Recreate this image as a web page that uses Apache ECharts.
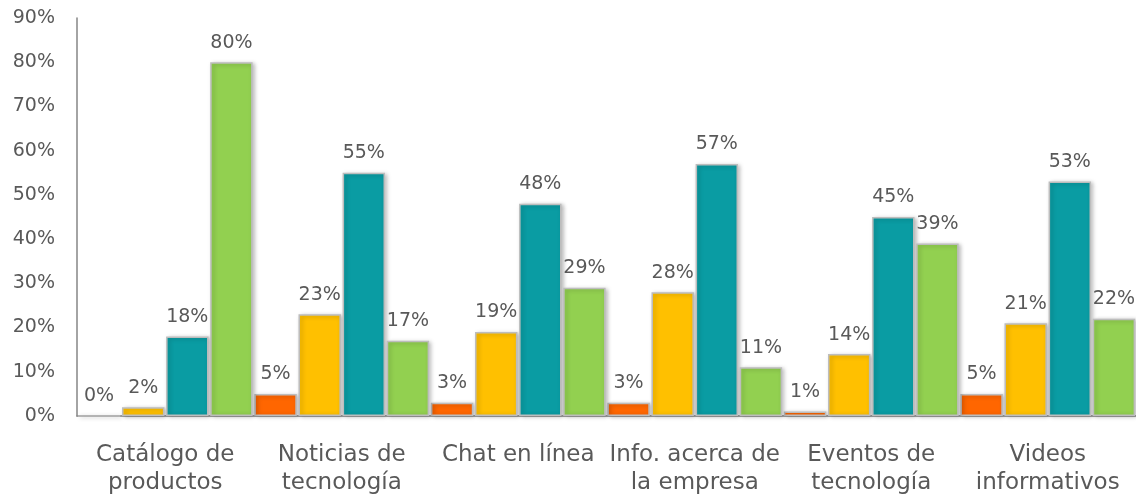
<!DOCTYPE html>
<html>
<head>
<meta charset="utf-8">
<script src="https://cdn.jsdelivr.net/npm/echarts@6/dist/echarts.min.js"></script>
<style>
  html, body { margin: 0; padding: 0; background: #fff; }
  #chart { width: 1136px; height: 499px; }
</style>
</head>
<body>
<div id="chart"></div>
<script>
// categorias
var categories = [
  "Catálogo de\nproductos",
  "Noticias de\ntecnología",
  "Chat en línea",
  "Info. acerca de\nla empresa",
  "Eventos de\ntecnología",
  "Videos\ninformativos"
];
// valores en %
var serie1 = [0, 5, 3, 3, 1, 5];
var serie2 = [2, 23, 19, 28, 14, 21];
var serie3 = [18, 55, 48, 57, 45, 53];
var serie4 = [80, 17, 29, 11, 39, 22];
var colors = ["#FF6600", "#FFC000", "#0A9CA3", "#92D050"];

var font = "DejaVu Sans";
var chart = echarts.init(document.getElementById("chart"));

function makeSeries(data, i) {
  return {
    type: "bar",
    data: data,
    barGap: "4%",
    barCategoryGap: "1%",
    itemStyle: {
      color: colors[i],
      borderColor: "#BDBDBD",
      borderWidth: 1.5,
      shadowColor: "rgba(0,0,0,0.25)",
      shadowBlur: 4,
      shadowOffsetX: 2,
      shadowOffsetY: 1
    },
    label: {
      show: true,
      position: "top",
      distance: 10,
      formatter: "{c}%",
      color: "#595959",
      fontFamily: font,
      fontSize: 19
    }
  };
}

var option = {
  animation: false,
  grid: { left: 77, right: -9, top: 18, bottom: 83 },
  xAxis: {
    type: "category",
    data: categories,
    axisLine: { lineStyle: { color: "#868686", width: 1.5 } },
    axisTick: { show: false },
    axisLabel: {
      color: "#595959",
      fontFamily: font,
      fontSize: 23,
      lineHeight: 28,
      margin: 25,
      interval: 0
    }
  },
  yAxis: {
    type: "value",
    min: 0,
    max: 90,
    interval: 10,
    splitLine: { show: false },
    axisLine: { show: true, lineStyle: { color: "#868686", width: 1.5 } },
    axisTick: { show: false },
    axisLabel: {
      formatter: "{value}%",
      color: "#595959",
      fontFamily: font,
      fontSize: 19,
      margin: 22
    }
  },
  series: [
    makeSeries(serie1, 0),
    makeSeries(serie2, 1),
    makeSeries(serie3, 2),
    makeSeries(serie4, 3)
  ]
};
chart.setOption(option);
</script>
</body>
</html>
